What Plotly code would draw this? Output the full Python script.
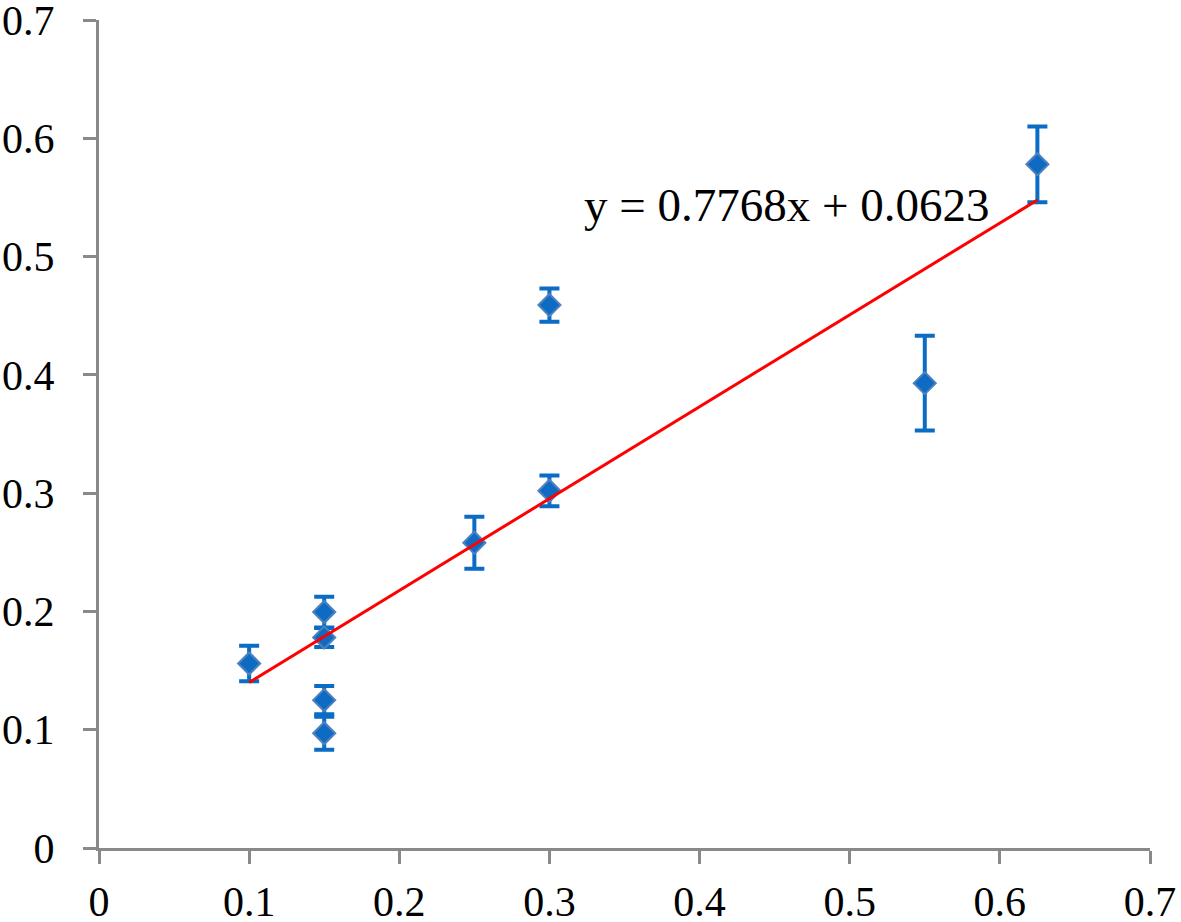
import plotly.graph_objects as go

x_vals = [0.1, 0.15, 0.15, 0.15, 0.15, 0.25, 0.3, 0.3, 0.55, 0.625]
y_vals = [0.156, 0.1995, 0.178, 0.125, 0.097, 0.258, 0.459, 0.302, 0.393, 0.578]
y_err = [0.015, 0.013, 0.008, 0.012, 0.014, 0.022, 0.014, 0.013, 0.040, 0.032]

slope = 0.7768
intercept = 0.0623
trend_x = [0.1, 0.625]
trend_y = [slope * v + intercept for v in trend_x]

x_ticks = [0, 0.1, 0.2, 0.3, 0.4, 0.5, 0.6, 0.7]
y_ticks = [0, 0.1, 0.2, 0.3, 0.4, 0.5, 0.6, 0.7]
tick_text = ["0", "0.1", "0.2", "0.3", "0.4", "0.5", "0.6", "0.7"]

fig = go.Figure()
fig.add_trace(go.Scatter(
    x=x_vals, y=y_vals, mode="markers",
    marker=dict(symbol="diamond", size=17, color="#0E6BC4",
                line=dict(color="#4F81BD", width=2)),
    error_y=dict(type="data", array=y_err, visible=True,
                 color="#0A6CC4", thickness=4, width=10),
    showlegend=False,
    cliponaxis=False,
))
fig.add_trace(go.Scatter(
    x=trend_x, y=trend_y, mode="lines",
    line=dict(color="#FF0000", width=3), showlegend=False,
))

fam = "Liberation Serif, Times New Roman, serif"
font = dict(family=fam, size=42, color="#000000")

fig.add_annotation(
    x=0.4585, y=0.5436, xref="x", yref="y",
    text="y = 0.7768x + 0.0623", showarrow=False,
    font=dict(family=fam, size=47, color="#000000"),
)

fig.update_layout(
    width=1181, height=922,
    margin=dict(l=99, r=31, t=20, b=74),
    paper_bgcolor="white", plot_bgcolor="white",
    font=font,
)
fig.update_xaxes(
    range=[0, 0.7], tickvals=x_ticks, ticktext=tick_text,
    showgrid=False, zeroline=False, showline=True,
    linecolor="#898989", linewidth=3,
    ticks="outside", ticklen=13, tickwidth=3, tickcolor="#898989",
    ticklabelstandoff=2, automargin=False, ticklabeloverflow="allow",
)
fig.update_yaxes(
    range=[0, 0.7], tickvals=y_ticks, ticktext=tick_text,
    showgrid=False, zeroline=False, showline=True,
    linecolor="#898989", linewidth=3,
    ticks="outside", ticklen=13, tickwidth=3, tickcolor="#898989",
    ticklabelstandoff=20, automargin=False, ticklabeloverflow="allow",
)

fig.write_html(
    "out.html",
    config={"displayModeBar": False},
    post_script="document.body.style.margin='0';document.body.style.overflow='hidden';",
)
